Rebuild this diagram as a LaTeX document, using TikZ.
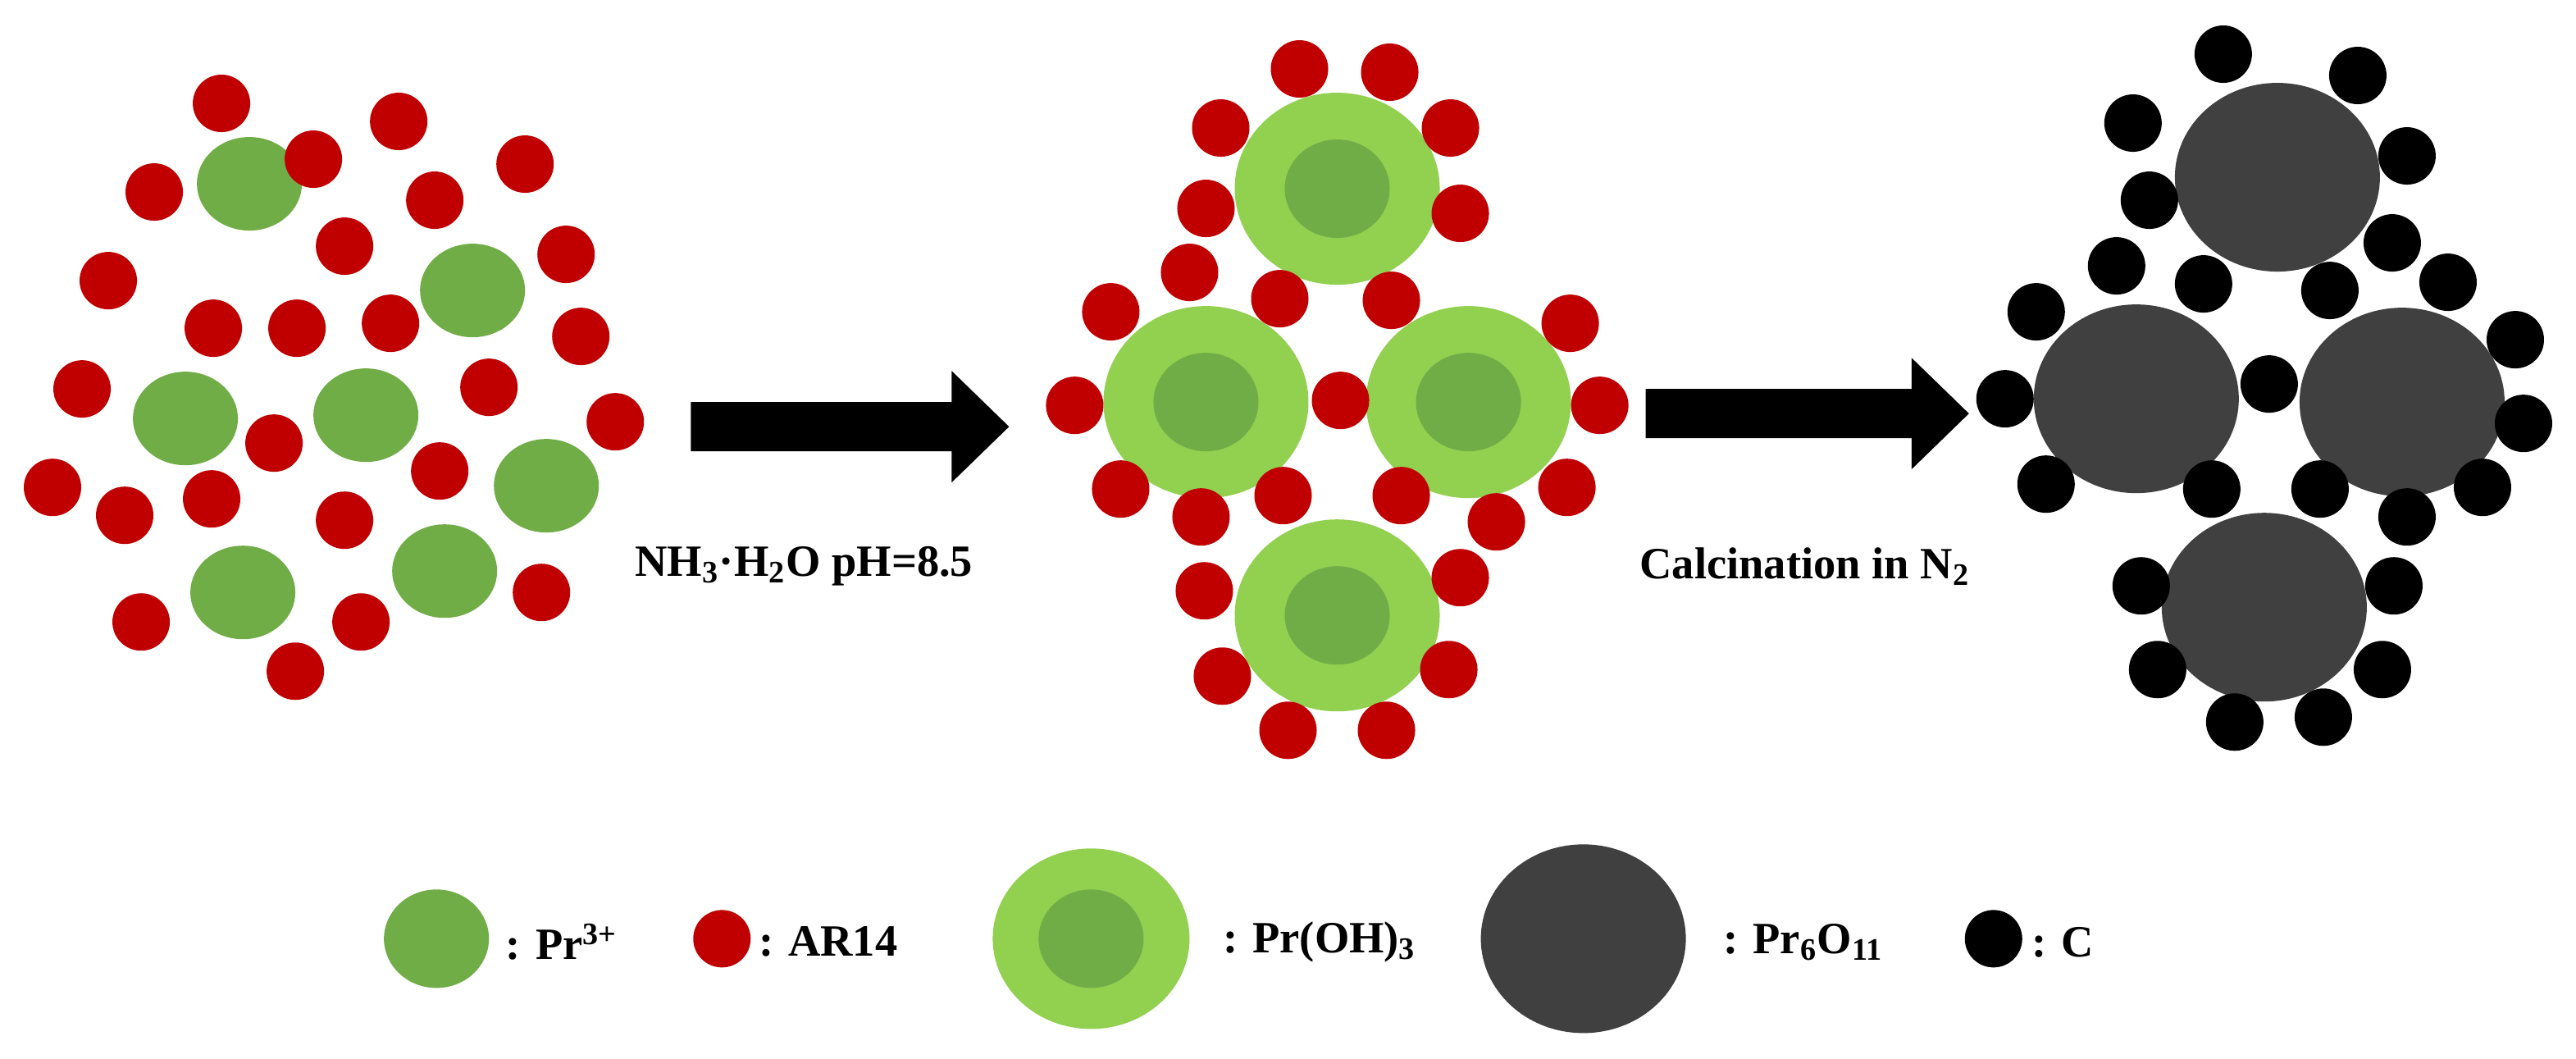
\documentclass[tikz,border=0pt]{standalone}
\usepackage{fontspec}
\setmainfont{Liberation Serif}
\begin{document}
\begin{tikzpicture}[x=0.02cm,y=-0.02cm]
\definecolor{gin}{HTML}{70AD47}\definecolor{gout}{HTML}{92D050}
\definecolor{rd}{HTML}{C00000}\definecolor{dk}{HTML}{404040}
\tikzset{lbl/.style={font=\bfseries\fontsize{15.5}{18}\selectfont,inner sep=0pt}}
\useasboundingbox (0,0) rectangle (1570,645);
% panel 1
\foreach \p in {(152,112),(288,177),(113,255),(223,253),(333,296),(148,361),(271,348)}
  \fill[gin] \p ellipse[x radius=0.64cm,y radius=0.57cm];
\foreach \p in {(135,63),(243,74),(191,97),(94,117),(320,100),(265,122),(210,150),(345,155),(66,171),(130,200),(181,200),(238,197),(354,205),(50,237),(298,236),(375,257),(167,270),(32,297),(76,314),(129,304),(268,287),(210,317),(86,379),(220,379),(330,361),(180,409)}
  \fill[rd] \p circle[radius=0.35cm];
% panel 2
\foreach \p in {(815,115),(735,245),(895,245),(815,375)}{
  \fill[gout] \p ellipse[x radius=1.25cm,y radius=1.17cm];
  \fill[gin] \p ellipse[x radius=0.64cm,y radius=0.6cm];}
\foreach \p in {(792,42),(847,44),(744,78),(884,78),(735,127),(890,130),(725,166),(677,190),(780,182),(848,183),(957,197),(655,247),(817,244),(975,247),(683,298),(732,315),(782,302),(854,302),(912,318),(955,297),(734,360),(890,352),(745,412),(883,408),(785,445),(845,445)}
  \fill[rd] \p circle[radius=0.35cm];
% panel 3
\foreach \p in {(1388,108),(1302,243),(1464,245),(1380,370)}
  \fill[dk] \p ellipse[x radius=1.25cm,y radius=1.15cm];
\foreach \p in {(1355,33),(1437,46),(1300,75),(1467,95),(1310,122),(1458,148),(1290,162),(1343,173),(1420,177),(1492,172),(1241,190),(1533,207),(1222,243),(1383,234),(1538,258),(1247,295),(1348,298),(1414,298),(1467,315),(1513,297),(1305,357),(1459,357),(1315,408),(1452,408),(1362,440),(1416,437)}
  \fill[black] \p circle[radius=0.35cm];
% arrows
\fill[black] (421,245)--(580,245)--(580,226)--(615,260)--(580,294)--(580,275)--(421,275)--cycle;
\fill[black] (1003,237)--(1165,237)--(1165,218)--(1200,252)--(1165,286)--(1165,267)--(1003,267)--cycle;
\node[lbl] (t1) at (490,345) {NH\textsubscript{3}·H\textsubscript{2}O pH=8.5};
\node[lbl] (t2) at (1100,345) {Calcination in N\textsubscript{2}};
% legend
\fill[gin] (266,572) ellipse[x radius=0.64cm,y radius=0.6cm];
\node[lbl,anchor=west] (l1) at (308,574) {: Pr\textsuperscript{3+}};
\fill[rd] (440,572) circle[radius=0.35cm];
\node[lbl,anchor=west] (l2) at (462,574) {: AR14};
\fill[gout] (665,572) ellipse[x radius=1.2cm,y radius=1.1cm];
\fill[gin] (665,572) ellipse[x radius=0.64cm,y radius=0.6cm];
\node[lbl,anchor=west] (l3) at (745,574) {: Pr(OH)\textsubscript{3}};
\fill[dk] (965,572) ellipse[x radius=1.25cm,y radius=1.15cm];
\node[lbl,anchor=west] (l4) at (1050,574) {: Pr\textsubscript{6}O\textsubscript{11}};
\fill[black] (1215,572) circle[radius=0.35cm];
\node[lbl,anchor=west] (l5) at (1238,574) {: C};
\end{tikzpicture}
\end{document}
